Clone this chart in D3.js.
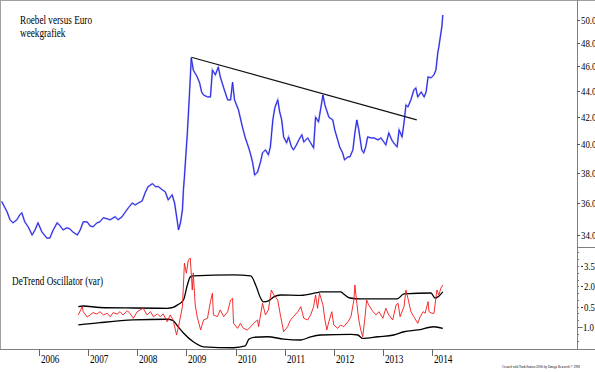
<!DOCTYPE html>
<html>
<head>
<meta charset="utf-8">
<script src="https://cdn.jsdelivr.net/npm/d3@7/dist/d3.min.js"></script>
<style>
  html, body { margin: 0; padding: 0; background: #fff; }
  svg { display: block; }
  text { font-family: "Liberation Serif", "Times New Roman", serif; fill: #000; }
</style>
</head>
<body>
<div id="chart"></div>
<script>
// Roebel versus Euro, weekly, with DeTrend oscillator
const priceDates = [
  2005.24, 2005.35, 2005.41, 2005.47, 2005.55, 2005.61, 2005.65, 2005.71, 2005.78, 2005.86,
  2005.92, 2005.98, 2006.06, 2006.16, 2006.22, 2006.29, 2006.37, 2006.43, 2006.49, 2006.57,
  2006.63, 2006.69, 2006.78, 2006.84, 2006.90, 2006.98, 2007.04, 2007.10, 2007.18, 2007.24,
  2007.31, 2007.39, 2007.45, 2007.55, 2007.61, 2007.69, 2007.76, 2007.82, 2007.90, 2007.96,
  2008.02, 2008.10, 2008.16, 2008.22, 2008.31, 2008.37, 2008.43, 2008.51, 2008.57, 2008.63,
  2008.71, 2008.76, 2008.82, 2008.84, 2008.88, 2008.92, 2008.94, 2008.96, 2009.02, 2009.06,
  2009.10, 2009.14, 2009.22, 2009.27, 2009.31, 2009.35, 2009.43, 2009.49, 2009.53, 2009.59,
  2009.65, 2009.69, 2009.76, 2009.84, 2009.90, 2009.94, 2009.98, 2010.06, 2010.14, 2010.20,
  2010.27, 2010.31, 2010.35, 2010.39, 2010.45, 2010.51, 2010.55, 2010.61, 2010.67, 2010.71,
  2010.76, 2010.80, 2010.86, 2010.90, 2010.94, 2010.98, 2011.04, 2011.08, 2011.14, 2011.18,
  2011.24, 2011.29, 2011.35, 2011.39, 2011.47, 2011.53, 2011.59, 2011.63, 2011.69, 2011.73,
  2011.78, 2011.82, 2011.90, 2011.98, 2012.02, 2012.08, 2012.12, 2012.18, 2012.22, 2012.29,
  2012.33, 2012.39, 2012.43, 2012.47, 2012.51, 2012.57, 2012.61, 2012.65, 2012.69, 2012.76,
  2012.82, 2012.90, 2012.96, 2013.02, 2013.06, 2013.12, 2013.18, 2013.22, 2013.29, 2013.33,
  2013.39, 2013.43, 2013.47, 2013.51, 2013.57, 2013.63, 2013.67, 2013.71, 2013.78, 2013.84,
  2013.88, 2013.92, 2013.98, 2014.04, 2014.08, 2014.12, 2014.14, 2014.16, 2014.20, 2014.22
];
const priceValues = [
  36.10, 35.43, 34.93, 34.74, 34.93, 35.25, 35.37, 34.80, 34.49, 33.99,
  34.30, 34.74, 34.17, 33.80, 33.80, 34.30, 34.74, 34.55, 34.30, 34.43,
  34.36, 34.17, 33.99, 34.30, 34.80, 34.80, 34.55, 34.49, 34.74, 34.80,
  35.06, 34.99, 34.93, 35.12, 34.93, 35.12, 35.43, 35.69, 36.00, 35.87,
  36.00, 36.13, 36.66, 37.07, 37.27, 37.07, 37.07, 36.86, 36.73, 36.20,
  36.53, 36.00, 34.74, 34.30, 34.74, 35.56, 36.86, 37.72, 40.83, 43.55,
  46.71, 45.71, 45.15, 44.66, 43.94, 43.70, 43.55, 43.55, 45.71, 45.31,
  45.95, 45.15, 44.26, 43.32, 43.32, 44.71, 43.32, 42.55, 41.27, 40.46,
  39.74, 39.25, 38.69, 37.85, 38.06, 38.76, 39.39, 39.60, 39.25, 39.81,
  41.79, 42.70, 43.32, 42.39, 41.79, 40.53, 40.10, 40.53, 39.81, 39.60,
  39.95, 40.32, 40.69, 40.17, 40.46, 40.10, 39.74, 42.00, 41.64, 42.55,
  43.70, 42.93, 42.00, 41.79, 41.05, 40.32, 39.81, 39.39, 38.90, 39.11,
  39.11, 39.60, 40.83, 41.79, 41.05, 39.60, 39.39, 39.81, 40.53, 40.46,
  40.46, 40.32, 40.46, 40.17, 39.95, 40.83, 40.32, 40.10, 39.81, 41.05,
  40.53, 41.57, 42.93, 42.78, 43.32, 44.09, 44.26, 43.55, 43.94, 43.55,
  43.94, 45.15, 45.07, 45.31, 45.71, 47.22, 47.64, 48.24, 49.38, 50.45
];

// resistance line drawn on the price panel
const trendDates = [2009.10, 2013.69];
const trendValues = [46.77, 41.79];

const oscDates = [
  2006.80, 2006.88, 2006.90, 2006.98, 2007.04, 2007.10, 2007.18, 2007.24, 2007.31, 2007.39,
  2007.45, 2007.51, 2007.59, 2007.65, 2007.71, 2007.80, 2007.86, 2007.92, 2008.00, 2008.06,
  2008.12, 2008.20, 2008.27, 2008.33, 2008.41, 2008.47, 2008.53, 2008.61, 2008.67, 2008.73,
  2008.80, 2008.84, 2008.92, 2008.96, 2009.00, 2009.04, 2009.08, 2009.12, 2009.14, 2009.18,
  2009.22, 2009.29, 2009.35, 2009.43, 2009.49, 2009.53, 2009.55, 2009.63, 2009.69, 2009.76,
  2009.84, 2009.90, 2009.94, 2009.96, 2010.04, 2010.10, 2010.16, 2010.24, 2010.31, 2010.37,
  2010.45, 2010.47, 2010.55, 2010.61, 2010.67, 2010.73, 2010.78, 2010.86, 2010.92, 2010.98,
  2011.06, 2011.12, 2011.18, 2011.27, 2011.33, 2011.39, 2011.47, 2011.53, 2011.59, 2011.63,
  2011.67, 2011.71, 2011.78, 2011.82, 2011.86, 2011.90, 2011.96, 2012.00, 2012.08, 2012.14,
  2012.20, 2012.29, 2012.35, 2012.41, 2012.43, 2012.47, 2012.51, 2012.55, 2012.59, 2012.63,
  2012.67, 2012.71, 2012.80, 2012.86, 2012.92, 2013.00, 2013.06, 2013.12, 2013.20, 2013.27,
  2013.31, 2013.35, 2013.43, 2013.47, 2013.51, 2013.57, 2013.63, 2013.71, 2013.76, 2013.82,
  2013.86, 2013.92, 2013.94, 2014.00, 2014.04, 2014.10, 2014.14, 2014.18, 2014.22
];
const oscValues = [
  -0.11, 0.50, 0.13, -0.26, -0.11, 0.06, -0.04, 0.13, -0.11, 0.01,
  -0.24, 0.06, -0.04, 0.13, -0.11, 0.20, -0.04, -0.36, 0.13, 0.26,
  0.38, -0.11, 0.13, -0.24, -0.04, -0.24, -0.04, -0.61, -0.11, -0.48,
  -1.59, -0.98, 0.50, 3.71, 2.97, 3.95, 4.08, 1.73, 2.99, 0.63,
  -0.24, -1.22, -0.48, -0.36, 0.87, 1.49, -0.11, -0.24, 0.26, -0.24,
  0.13, 0.99, 1.12, -0.73, -1.10, -0.73, -1.10, -1.22, -0.98, -0.73,
  -0.48, -0.98, 0.75, -0.11, 0.26, 1.73, 1.36, 0.99, -0.24, -1.35,
  -0.98, -0.48, -0.24, 0.13, 0.50, -0.36, -0.48, -0.11, 0.50, 1.36,
  0.38, 1.49, 0.63, -0.48, -1.22, -0.61, 0.13, -0.85, -1.10, -0.85,
  -0.98, -0.61, -0.24, 0.99, 2.10, 0.75, -0.48, -1.22, -1.72, -0.48,
  0.99, 0.63, 0.13, -0.11, 0.13, -0.36, 0.38, -0.11, -0.48, 0.63,
  0.75, -0.24, 0.50, 1.73, 1.12, 0.13, -0.24, -0.73, -0.24, 0.13,
  0.01, 0.87, 0.13, 0.01, 0.01, 1.73, 1.36, 1.86, 2.10
];

const upperDates = [
  2006.80, 2006.90, 2007.24, 2007.92, 2008.61, 2008.73, 2008.82, 2008.94, 2009.02, 2009.08,
  2009.14, 2009.96, 2010.31, 2010.41, 2010.51, 2010.57, 2010.67, 2010.78, 2010.92, 2011.33,
  2011.63, 2011.73, 2012.14, 2012.20, 2012.33, 2012.55, 2013.29, 2013.43, 2013.98, 2014.06,
  2014.12, 2014.22
];
const upperValues = [
  0.50, 0.55, 0.44, 0.40, 0.38, 0.44, 0.63, 0.99, 2.10, 2.70,
  2.77, 2.84, 2.77, 2.10, 1.14, 0.85, 0.92, 1.22, 1.36, 1.33,
  1.51, 1.59, 1.59, 1.44, 1.14, 1.07, 1.07, 1.44, 1.51, 1.14,
  1.22, 1.59
];
const lowerDates = [
  2006.80, 2007.24, 2007.92, 2008.61, 2008.73, 2008.82, 2008.94, 2009.14, 2009.35, 2009.96,
  2010.20, 2010.27, 2010.37, 2010.65, 2010.98, 2011.33, 2011.53, 2011.73, 2012.35, 2012.49,
  2012.59, 2012.90, 2013.22, 2013.43, 2013.71, 2014.04, 2014.22
];
const lowerValues = [
  -0.85, -0.68, -0.48, -0.43, -0.53, -0.93, -1.44, -2.09, -2.46, -2.53,
  -2.40, -1.91, -1.76, -1.72, -1.89, -1.96, -1.72, -1.59, -1.54, -1.59,
  -1.84, -1.72, -1.59, -1.35, -1.22, -0.98, -1.10
];

const yearTicks = [2006, 2007, 2008, 2009, 2010, 2011, 2012, 2013, 2014];
const priceTicks = [50, 48, 46, 44, 42, 40, 38, 36, 34];
const oscTicks = [3.5, 2.0, 0.5, -1.0];

const width = 595;
const height = 372;
const axisX = 577;
const axisY = 349;
const panelSplit = 247;

const svg = d3.select('#chart')
  .append('svg')
  .attr('width', width)
  .attr('height', height);

svg.append('rect')
  .attr('width', width)
  .attr('height', height)
  .attr('fill', '#fff');

const x = d3.scaleLinear().domain([2006, 2014]).range([39, 432]);
const yPrice = d3.scaleLog().domain([34, 50]).range([234.8, 20]);
const yOsc = d3.scaleLinear().domain([-1, 3.5]).range([327, 266]);

// text in the original is horizontally squeezed
function addText(px, py, str, size, sx = 0.8) {
  return svg.append('text')
    .attr('transform', `translate(${px},${py}) scale(${sx},1)`)
    .attr('font-size', size + 'px')
    .text(str);
}

// frame
svg.append('line').attr('x1', 0).attr('x2', width).attr('y1', 0.5).attr('y2', 0.5)
  .attr('stroke', '#a0a0a0');
svg.append('line').attr('x1', 0.5).attr('x2', 0.5).attr('y1', 0).attr('y2', axisY)
  .attr('stroke', '#a0a0a0');
svg.append('line').attr('x1', axisX + 0.5).attr('x2', axisX + 0.5).attr('y1', 0).attr('y2', axisY)
  .attr('stroke', '#808080');
svg.append('line').attr('x1', 0).attr('x2', width).attr('y1', axisY + 0.5).attr('y2', axisY + 0.5)
  .attr('stroke', '#808080');
svg.append('line').attr('x1', axisX).attr('x2', width).attr('y1', panelSplit + 0.5).attr('y2', panelSplit + 0.5)
  .attr('stroke', '#808080');

// price axis (log scale)
priceTicks.forEach(v => {
  const py = Math.round(yPrice(v)) + 0.5;
  svg.append('line').attr('x1', axisX).attr('x2', axisX + 3).attr('y1', py).attr('y2', py)
    .attr('stroke', '#555');
  addText(axisX + 4, py + 3.5, d3.format('.1f')(v), 11);
});

// oscillator axis
d3.range(-2.5, 4.6, 0.5).forEach(v => {
  const py = Math.round(yOsc(v)) + 0.5;
  if (py < panelSplit + 3 || py > axisY - 2) return;
  svg.append('line').attr('x1', axisX).attr('x2', axisX + 2).attr('y1', py).attr('y2', py)
    .attr('stroke', '#777');
});
oscTicks.forEach(v => {
  const py = Math.round(yOsc(v)) + 0.5;
  if (v >= 0) {
    svg.append('line').attr('x1', axisX + 4).attr('x2', axisX + 6).attr('y1', py).attr('y2', py)
      .attr('stroke', '#333');
    addText(axisX + 7, py + 3.5, d3.format('.1f')(v), 11);
  } else {
    addText(axisX + 1, py + 3.5, d3.format('.1f')(v), 11);
  }
});

// time axis
yearTicks.forEach(yr => {
  const px = Math.round(x(yr)) + 0.5;
  svg.append('line').attr('x1', px).attr('x2', px).attr('y1', axisY).attr('y2', axisY + 7)
    .attr('stroke', '#666');
  addText(px + 1.5, 363, String(yr), 11.5);
});

// price series: a light halo under a thin dark line, like the weekly bars
const priceLine = d3.line()
  .x((d, i) => x(priceDates[i]))
  .y(d => yPrice(d));

svg.append('path')
  .datum(priceValues)
  .attr('d', priceLine)
  .attr('fill', 'none')
  .attr('stroke', '#a4a4f6')
  .attr('stroke-width', 1.8);

svg.append('path')
  .datum(priceValues)
  .attr('d', priceLine)
  .attr('fill', 'none')
  .attr('stroke', '#1a1ae0')
  .attr('stroke-width', 0.9);

svg.append('line')
  .attr('x1', x(trendDates[0])).attr('y1', yPrice(trendValues[0]))
  .attr('x2', x(trendDates[1])).attr('y2', yPrice(trendValues[1]))
  .attr('stroke', '#111')
  .attr('stroke-width', 1.1);

// oscillator panel
const bandLine = (dates) => d3.line()
  .x((d, i) => x(dates[i]))
  .y(d => yOsc(d))
  .curve(d3.curveMonotoneX);

svg.append('path')
  .datum(upperValues)
  .attr('d', bandLine(upperDates))
  .attr('fill', 'none')
  .attr('stroke', '#000')
  .attr('stroke-width', 1.3);

svg.append('path')
  .datum(lowerValues)
  .attr('d', bandLine(lowerDates))
  .attr('fill', 'none')
  .attr('stroke', '#000')
  .attr('stroke-width', 1.3);

svg.append('path')
  .datum(oscValues)
  .attr('d', d3.line().x((d, i) => x(oscDates[i])).y(d => yOsc(d)))
  .attr('fill', 'none')
  .attr('stroke', '#f01818')
  .attr('stroke-width', 0.9);

// labels
addText(20, 24, 'Roebel versus Euro', 11.5);
addText(20, 36.5, 'weekgrafiek', 11.5);
addText(12, 285, 'DeTrend Oscillator (var)', 11.5);

addText(502, 368, 'Created with TradeStation 2000i by Omega Research \u00a9 1998', 4.4, 0.72)
  .attr('font-family', 'Liberation Sans, Arial, sans-serif')
  .attr('fill', '#333');
</script>
</body>
</html>
